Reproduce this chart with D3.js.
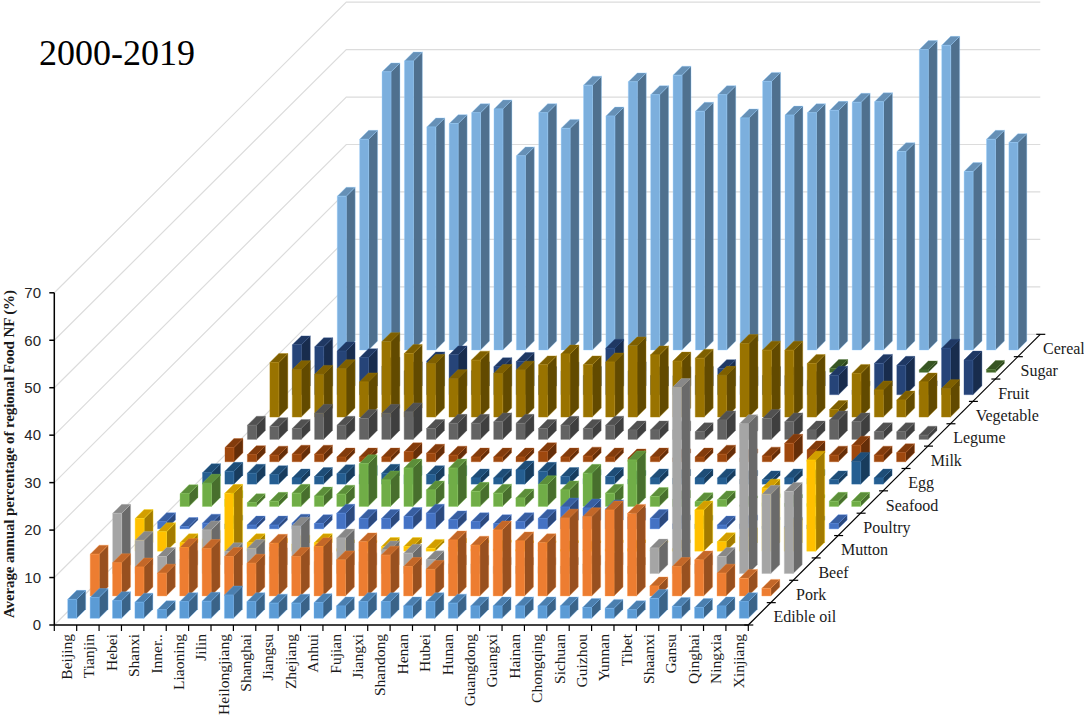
<!DOCTYPE html>
<html>
<head>
<meta charset="utf-8">
<script src="https://cdn.jsdelivr.net/npm/d3@7"></script>
<style>
	body { margin: 0; background: #fff; }
	svg { display: block; }
</style>
</head>
<body>
<div id="chart"></div>
<script>
var provinces = ["Beijing", "Tianjin", "Hebei", "Shanxi", "Inner..", "Liaoning", "Jilin",
	"Heilongjiang", "Shanghai", "Jiangsu", "Zhejiang", "Anhui", "Fujian", "Jiangxi",
	"Shandong", "Henan", "Hubei", "Hunan", "Guangdong", "Guangxi", "Hainan", "Chongqing",
	"Sichuan", "Guizhou", "Yunnan", "Tibet", "Shaanxi", "Gansu", "Qinghai", "Ningxia", "Xinjiang"];

var seriesNames = ["Edible oil", "Pork", "Beef", "Mutton", "Poultry", "Seafood", "Egg",
	"Milk", "Legume", "Vegetable", "Fruit", "Sugar", "Cereal"];

var seriesColors = ["#5b9bd5", "#ed7d31", "#a5a5a5", "#ffc000", "#4472c4", "#70ad47", "#255e91",
	"#9e480e", "#636363", "#997300", "#264478", "#43682b", "#7cafdd"];

var valueTicks = [0, 10, 20, 30, 40, 50, 60, 70];

// percentages, one value per province (same order as provinces)
var edibleOil = [4.0, 4.4, 3.7, 3.4, 1.8, 3.5, 3.6, 4.9, 3.5, 3.2, 3.2, 3.3, 2.6, 3.5, 3.5, 2.6,
	3.5, 3.2, 2.6, 2.6, 2.6, 2.6, 2.6, 2.3, 2.1, 1.8, 4.2, 2.5, 2.3, 2.6, 3.5];
var pork = [8.8, 7.0, 6.1, 4.8, 10.2, 10.0, 8.3, 6.9, 11.1, 8.3, 10.4, 7.6, 11.4, 8.6, 6.2, 5.6,
	11.8, 10.7, 13.9, 11.6, 11.2, 16.4, 16.7, 18.1, 17.4, 2.1, 6.2, 7.6, 4.8, 3.7, 1.6];
var beef = [12.7, 7.0, 3.6, 3.0, 9.2, 4.6, 5.3, 3.5, 10.0, 2.5, 7.5, 2.5, 5.0, 4.3, 2.9, 2.0,
	2.0, 1.5, 1.5, 1.5, 1.5, 2.0, 2.5, 1.5, 5.4, 39.2, 2.0, 3.6, 31.6, 16.7, 17.3];
var mutton = [6.9, 4.1, 1.8, 2.5, 12.2, 1.8, 0.8, 1.5, 1.8, 0.5, 0.4, 1.0, 1.0, 0.6, 0.8, 0.5,
	0.4, 0.3, 0.3, 0.3, 0.3, 0.4, 0.5, 0.3, 0.5, 8.7, 2.0, 3.0, 13.3, 5.0, 19.2];
var poultry = [1.5, 0.5, 1.2, 1.0, 0.8, 0.8, 1.2, 1.1, 3.3, 2.2, 2.2, 2.6, 3.3, 1.9, 1.5, 1.1,
	1.5, 2.2, 4.6, 4.4, 4.2, 2.5, 2.2, 1.0, 1.0, 0.8, 1.0, 0.6, 0.5, 0.8, 1.1];
var seafood = [2.7, 4.9, 1.5, 0.8, 1.1, 2.8, 2.2, 2.6, 9.0, 5.6, 8.1, 3.5, 8.1, 3.2, 2.8, 1.8,
	4.6, 3.5, 7.0, 2.8, 9.8, 2.1, 1.5, 1.0, 1.4, 0.3, 0.8, 0.6, 0.6, 1.1, 1.1];
var egg = [2.4, 2.7, 2.3, 2.0, 1.3, 1.6, 2.2, 2.0, 2.3, 2.0, 2.0, 2.0, 1.3, 1.3, 3.0, 2.7,
	1.6, 1.2, 1.6, 1.0, 1.3, 1.2, 1.3, 1.3, 1.0, 0.9, 1.3, 1.2, 0.9, 4.8, 1.3];
var milk = [3.0, 1.5, 1.4, 1.6, 1.6, 1.0, 1.0, 1.0, 2.1, 1.8, 1.4, 1.0, 1.0, 1.0, 2.1, 1.0,
	1.2, 1.0, 0.8, 1.0, 0.8, 1.0, 1.6, 0.8, 1.2, 3.9, 2.5, 1.4, 3.5, 1.4, 1.9];
var legume = [3.0, 2.7, 2.3, 5.5, 3.0, 4.4, 5.5, 5.8, 2.3, 3.4, 3.4, 3.7, 3.4, 2.3, 3.0, 2.3,
	3.0, 2.0, 2.0, 2.0, 1.6, 4.1, 3.0, 4.4, 3.7, 2.0, 4.1, 3.7, 1.6, 1.6, 0.9];
var vegetable = [11.5, 10.0, 9.0, 10.2, 7.4, 15.9, 13.4, 11.3, 8.1, 12.0, 9.2, 9.9, 11.0, 13.3, 11.0, 11.6,
	15.0, 13.1, 11.8, 12.4, 8.8, 15.5, 14.1, 14.1, 11.3, 1.6, 9.2, 5.7, 3.6, 7.4, 6.0];
var fruit = [10.5, 10.1, 9.2, 7.8, 6.0, 5.0, 7.1, 8.4, 5.0, 5.9, 7.0, 4.0, 5.0, 4.0, 9.8, 5.0,
	4.0, 4.0, 4.0, 5.5, 4.0, 4.0, 4.0, 3.0, 4.1, 1.0, 6.6, 6.2, 1.0, 9.8, 7.3];
var sugar = [0, 0, 0, 0, 0, 0, 0, 0, 0, 0, 0, 0, 0, 0, 0, 0,
	0, 0, 0, 0, 0, 0, 0, 0.8, 0, 0, 0, 0.5, 0, 0, 0.6];
var cereal = [32.4, 44.4, 58.6, 60.9, 47.0, 47.7, 50.0, 50.8, 40.9, 50.0, 46.7, 55.8, 49.3, 56.5, 53.8, 57.9,
	50.3, 53.8, 48.9, 56.6, 49.5, 50.0, 50.5, 52.2, 52.3, 41.8, 63.3, 64.2, 37.6, 44.4, 43.7];

var seriesValues = [edibleOil, pork, beef, mutton, poultry, seafood, egg,
	milk, legume, vegetable, fruit, sugar, cereal];

var width = 1084,
	height = 718;

// oblique projection: each depth row moves up and to the right
var rowDx = 22.46,
	rowDy = -22.36;

var x = d3.scaleBand()
	.domain(provinces)
	.range([54.3, 748.3]);

var depth = d3.scaleBand()
	.domain(seriesNames)
	.range([0, seriesNames.length]);

var y = d3.scaleLinear()
	.domain([0, 70])
	.range([625, 292.8]);

function proj(px, d, v) {
	return [px + d * rowDx, y(v) + d * rowDy];
}

function poly(pts) {
	return "M" + pts.map(function(p) { return p[0].toFixed(2) + "," + p[1].toFixed(2); }).join("L") + "Z";
}

var svg = d3.select("#chart")
	.append("svg")
	.attr("width", width)
	.attr("height", height)
	.style("font-family", "'Liberation Serif', 'Times New Roman', serif");

var xStart = x.range()[0],
	xEnd = x.range()[1],
	dMax = seriesNames.length;

// wall gridlines (left wall diagonals + back wall horizontals)
svg.append("g")
	.selectAll("path")
	.data(valueTicks)
	.enter()
	.append("path")
	.attr("d", function(t) {
		var a = proj(xStart, 0, t), b = proj(xStart, dMax, t), c = proj(xEnd, dMax, t);
		return "M" + a + "L" + b + "L" + c;
	})
	.attr("fill", "none")
	.attr("stroke", "#dcdcdc")
	.attr("stroke-width", 1.2);

// bars, back rows first
var bars = [];
for (var s = seriesNames.length - 1; s >= 0; s--) {
	for (var i = 0; i < provinces.length; i++) {
		if (seriesValues[s][i] > 0) {
			bars.push({series: s, province: provinces[i], value: seriesValues[s][i]});
		}
	}
}

var bw = x.bandwidth(),
	db = depth.bandwidth();

var bar = svg.append("g")
	.selectAll("g.bar")
	.data(bars)
	.enter()
	.append("g")
	.attr("class", "bar");

function geom(d) {
	var x0 = x(d.province) + 0.3 * bw,
		x1 = x0 + 0.4 * bw,
		d0 = depth(seriesNames[d.series]) + 0.3 * db,
		d1 = d0 + 0.4 * db;
	return {x0: x0, x1: x1, d0: d0, d1: d1, v: d.value};
}

bar.append("path")
	.attr("d", function(d) {
		var g = geom(d);
		return poly([proj(g.x1, g.d0, 0), proj(g.x1, g.d1, 0), proj(g.x1, g.d1, g.v), proj(g.x1, g.d0, g.v)]);
	})
	.attr("fill", function(d) { return d3.color(seriesColors[d.series]).darker(1.25); });

bar.append("path")
	.attr("d", function(d) {
		var g = geom(d);
		return poly([proj(g.x0, g.d0, g.v), proj(g.x1, g.d0, g.v), proj(g.x1, g.d1, g.v), proj(g.x0, g.d1, g.v)]);
	})
	.attr("fill", function(d) { return d3.color(seriesColors[d.series]).darker(0.55); });

bar.append("path")
	.attr("d", function(d) {
		var g = geom(d);
		return poly([proj(g.x0, g.d0, 0), proj(g.x1, g.d0, 0), proj(g.x1, g.d0, g.v), proj(g.x0, g.d0, g.v)]);
	})
	.attr("fill", function(d) { return seriesColors[d.series]; });

bar.selectAll("path")
	.attr("stroke", function(d) { return d3.color(seriesColors[d.series]).brighter(0.4); })
	.attr("stroke-width", 0.5)
	.attr("stroke-opacity", 0.7)
	.attr("stroke-linejoin", "round");

// value axis
var axisG = svg.append("g")
	.attr("stroke", "#000");

axisG.append("line")
	.attr("x1", xStart).attr("x2", xStart)
	.attr("y1", y(0)).attr("y2", y(70))
	.attr("stroke-width", 1.5);

axisG.selectAll("line.ytick")
	.data(valueTicks)
	.enter()
	.append("line")
	.attr("class", "ytick")
	.attr("x1", xStart - 5).attr("x2", xStart)
	.attr("y1", function(t) { return y(t); })
	.attr("y2", function(t) { return y(t); })
	.attr("stroke-width", 1.5);

svg.append("g")
	.selectAll("text")
	.data(valueTicks)
	.enter()
	.append("text")
	.attr("x", 41)
	.attr("y", function(t) { return y(t); })
	.attr("dy", "0.35em")
	.attr("text-anchor", "end")
	.style("font-family", "'Liberation Sans', Arial, sans-serif")
	.style("font-size", "15px")
	.attr("fill", "#262626")
	.text(function(t) { return t; });

// category axis
axisG.append("line")
	.attr("x1", xStart).attr("x2", xEnd)
	.attr("y1", y(0)).attr("y2", y(0))
	.attr("stroke-width", 1.5);

var boundaries = d3.range(provinces.length + 1).map(function(k) { return xStart + k * bw; });

axisG.selectAll("line.xtick")
	.data(boundaries)
	.enter()
	.append("line")
	.attr("class", "xtick")
	.attr("x1", function(b) { return b; })
	.attr("x2", function(b) { return b; })
	.attr("y1", y(0)).attr("y2", y(0) + 6)
	.attr("stroke-width", 1.2);

svg.append("g")
	.selectAll("text")
	.data(provinces)
	.enter()
	.append("text")
	.attr("transform", function(p) {
		return "translate(" + (x(p) + bw / 2 + 1) + "," + (y(0) + 9) + ") rotate(-90)";
	})
	.attr("text-anchor", "end")
	.attr("dominant-baseline", "central")
	.style("font-size", "15.5px")
	.attr("fill", "#1a1a1a")
	.text(function(p) { return p; });

// depth (series) axis
var dAxis0 = proj(xEnd, 0, 0),
	dAxis1 = proj(xEnd, dMax, 0);

axisG.append("line")
	.attr("x1", dAxis0[0]).attr("y1", dAxis0[1])
	.attr("x2", dAxis1[0]).attr("y2", dAxis1[1])
	.attr("stroke-width", 1.2);

axisG.selectAll("line.dtick")
	.data(d3.range(dMax + 1))
	.enter()
	.append("line")
	.attr("class", "dtick")
	.attr("x1", function(k) { return proj(xEnd, k, 0)[0] - 4; })
	.attr("x2", function(k) { return proj(xEnd, k, 0)[0] + 5; })
	.attr("y1", function(k) { return proj(xEnd, k, 0)[1]; })
	.attr("y2", function(k) { return proj(xEnd, k, 0)[1]; })
	.attr("stroke-width", 1.2);

svg.append("g")
	.selectAll("text")
	.data(seriesNames)
	.enter()
	.append("text")
	.attr("x", function(s) { return proj(xEnd, depth(s) + db / 2, 0)[0] + 14; })
	.attr("y", function(s) { return proj(xEnd, depth(s) + db / 2, 0)[1] + 3; })
	.attr("dominant-baseline", "central")
	.style("font-size", "16px")
	.attr("fill", "#1a1a1a")
	.text(function(s) { return s; });

// y title
svg.append("text")
	.attr("transform", "translate(9,454) rotate(-90)")
	.attr("text-anchor", "middle")
	.attr("dominant-baseline", "central")
	.attr("textLength", 328)
	.attr("lengthAdjust", "spacing")
	.style("font-size", "15px")
	.style("font-weight", "bold")
	.attr("fill", "#1a1a1a")
	.text("Average annual percentage of regional Food NF (%)");

// period title
svg.append("text")
	.attr("x", 39)
	.attr("y", 65)
	.style("font-size", "36px")
	.attr("fill", "#000")
	.text("2000-2019");
</script>
</body>
</html>
